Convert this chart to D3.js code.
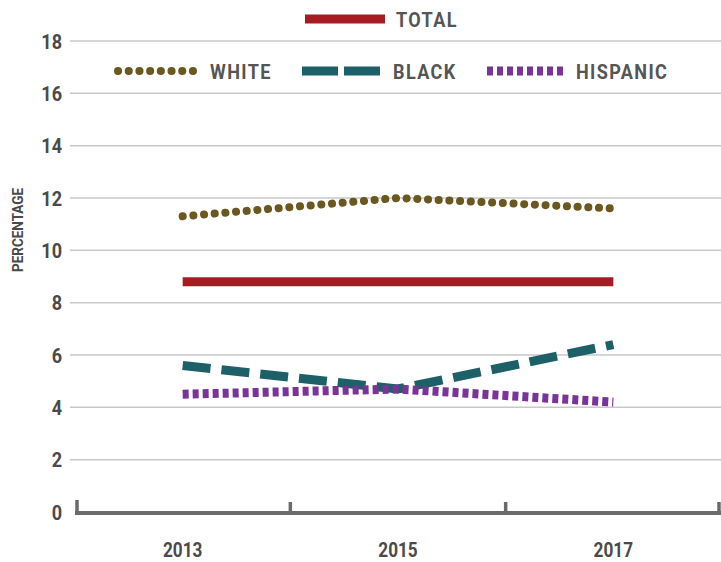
<!DOCTYPE html>
<html><head><meta charset="utf-8">
<script src="https://cdn.jsdelivr.net/npm/d3@7"></script>
<style>body{margin:0;background:#fff}svg{display:block}</style>
</head><body><svg id="c" width="721" height="562"></svg>
<script>
const years = ["2013","2015","2017"];
const total = [8.8, 8.8, 8.8];
const white = [11.3, 12.0, 11.6];
const black = [5.6, 4.7, 6.4];
const hispanic = [4.5, 4.7, 4.2];
const yTicks = [0,2,4,6,8,10,12,14,16,18];

const font = "Roboto,'Liberation Sans',sans-serif";
const SX = 0.86; // horizontal condensing
const svg = d3.select("#c");
const x = d3.scaleBand().domain(years).range([75, 721]);
const y = d3.scaleLinear().domain([0, 18]).range([512, 41]);
const cx = d => x(d) + x.bandwidth()/2;

function ctext(sel){
  return sel.attr("font-family", font).attr("font-weight","bold").attr("fill","#4a4a4a");
}

// gridlines
svg.append("g").selectAll("line").data(yTicks.filter(t=>t>0)).join("line")
  .attr("x1", 70).attr("x2", 721).attr("y1", d=>y(d)).attr("y2", d=>y(d))
  .attr("stroke", "#c8c8c8").attr("stroke-width", 1.5);
// y labels
ctext(svg.append("g").selectAll("text").data(yTicks).join("text")
  .attr("transform", d=>`translate(62,${y(d)}) scale(${SX},1)`)
  .attr("dy", "0.36em").attr("text-anchor","end").attr("font-size", 21))
  .text(d=>d);
// y title
ctext(svg.append("text").attr("transform","translate(23,230) rotate(-90) scale(0.9,1)").attr("text-anchor","middle")
  .attr("font-size", 15))
  .text("PERCENTAGE");

// x axis
const axisG = svg.append("g");
axisG.append("line").attr("x1", 75).attr("x2", 721).attr("y1", 513).attr("y2", 513)
  .attr("stroke", "#6a6a6a").attr("stroke-width", 4);
const bounds = years.map(d=>x(d)).concat([x(years[years.length-1]) + x.bandwidth()]);
axisG.selectAll("line.t").data(bounds).join("line").attr("class","t")
  .attr("x1", (d,i)=> i===0 ? d+2 : (i===bounds.length-1 ? d-2 : d))
  .attr("x2", (d,i)=> i===0 ? d+2 : (i===bounds.length-1 ? d-2 : d))
  .attr("y1", (d,i)=> i===0 ? 500 : 502).attr("y2", 513)
  .attr("stroke", "#6a6a6a").attr("stroke-width", 3.5);
ctext(axisG.selectAll("text").data(years).join("text")
  .attr("transform", d=>`translate(${cx(d)},557) scale(${SX},1)`).attr("text-anchor","middle")
  .attr("font-size", 20))
  .text(d=>d);

const series = [
  {name:"TOTAL", vals: total, color:"#a51c22", width:9, dash:null, cap:"butt"},
  {name:"WHITE", vals: white, color:"#6b5820", width:8, dash:"0.1 10.6", cap:"round"},
  {name:"BLACK", vals: black, color:"#1d6068", width:9, dash:"28 11", cap:"butt"},
  {name:"HISPANIC", vals: hispanic, color:"#7a3397", width:9, dash:"6 4", cap:"butt"}
];
const line = d3.line().x((d,i)=>cx(years[i])).y(d=>y(d));
const drawOrder = [series[0], series[2], series[3], series[1]];
drawOrder.forEach(s=>{
  svg.append("path").attr("d", line(s.vals)).attr("fill","none")
    .attr("stroke", s.color).attr("stroke-width", s.width)
    .attr("stroke-linecap", s.cap)
    .attr("stroke-dasharray", s.dash);
});

// legend
const legend = [
  {s: series[0], x1:305, x2:385, y:19, tx:396},
  {s: series[1], x1:118, x2:195, y:71, tx:210},
  {s: series[2], x1:302, x2:380, y:71, tx:393},
  {s: series[3], x1:487, x2:565, y:71, tx:576}
];
legend.forEach(l=>{
  svg.append("line").attr("x1", l.x1).attr("x2", l.x2).attr("y1", l.y).attr("y2", l.y)
    .attr("stroke", l.s.color).attr("stroke-width", l.s.width)
    .attr("stroke-linecap", l.s.cap)
    .attr("stroke-dasharray", l.s.name==="BLACK" ? "36 6" : l.s.dash);
  svg.append("text").attr("transform", `translate(${l.tx},${l.y}) scale(${SX},1)`).attr("dy","0.36em")
    .attr("font-family", font).attr("font-weight","bold").attr("font-size", 21)
    .attr("letter-spacing", 1.6).attr("fill","#555")
    .text(l.s.name);
});
</script></body></html>
